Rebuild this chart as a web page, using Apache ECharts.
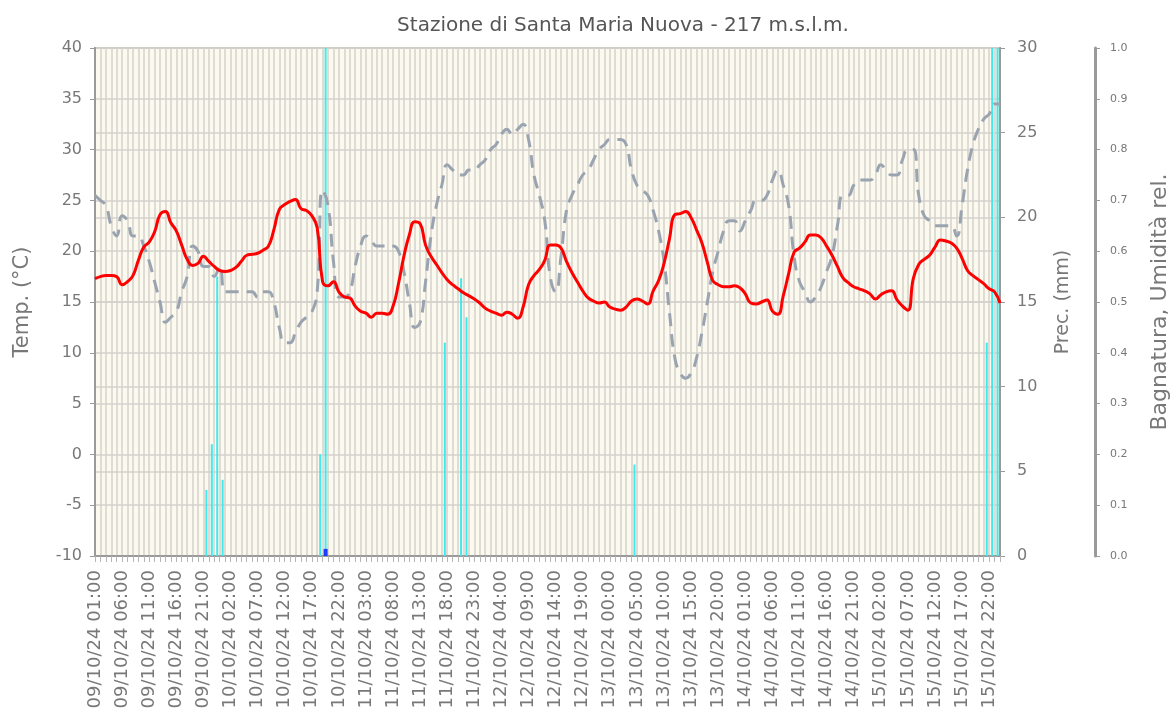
<!DOCTYPE html>
<html>
<head>
<meta charset="utf-8">
<title>Stazione di Santa Maria Nuova</title>
<script src="https://cdn.jsdelivr.net/npm/echarts@6/dist/echarts.min.js"></script>
<style>
  html, body { margin: 0; padding: 0; background: #fff; }
  #chart { width: 1171px; height: 718px; }
</style>
</head>
<body>
<div id="chart"></div>
<script>
// ore dal 09/10/24 01:00 al 16/10/24 00:00 (una categoria per ora)
var categories = [];
for (var i = 0; i < 168; i++) {
  var h = 1 + i;
  categories.push(pad(9 + Math.floor(h / 24)) + '/10/24 ' + pad(h % 24) + ':00');
}
function pad(n) { return (n < 10 ? '0' : '') + n; }

// temperatura (°C), 24 valori per riga
var temperature = [
  17.3,17.5,17.6,17.6,17.5,16.7,17.0,17.6,19.1,20.4,20.9,21.9,23.6,23.9,22.8,22.0,20.6,19.2,18.6,18.8,19.5,19.0,18.5,18.1,
  18.0,18.1,18.4,19.0,19.6,19.7,19.8,20.1,20.5,22.1,24.1,24.6,24.9,25.1,24.2,24.0,23.5,22.3,17.0,16.6,17.0,16.0,15.5,15.4,
  14.6,14.1,13.9,13.5,13.9,13.9,13.8,14.6,16.8,19.5,21.6,22.9,22.7,20.6,19.5,18.7,17.9,17.2,16.7,16.3,15.9,15.6,15.3,14.9,
  14.4,14.1,13.9,13.7,14.0,13.8,13.4,14.5,16.7,17.6,18.2,19.1,20.6,20.6,20.3,19.0,17.9,17.0,16.1,15.4,15.1,14.9,15.0,14.5,
  14.3,14.2,14.5,15.1,15.3,15.1,14.8,16.1,17.1,18.8,21.2,23.6,23.7,23.9,23.3,22.1,20.8,18.9,17.1,16.7,16.5,16.5,16.6,16.4,
  15.8,14.9,14.8,15.0,15.2,14.1,13.8,15.6,17.8,19.9,20.3,20.9,21.6,21.6,21.3,20.5,19.6,18.5,17.4,16.9,16.5,16.3,16.1,15.8,
  15.3,15.7,16.0,16.1,15.2,14.6,14.2,17.3,18.7,19.2,19.6,20.4,21.1,21.0,20.8,20.3,19.3,18.1,17.6,17.2,16.8,16.3,16.0,14.9
];

// umidità relativa (0-1)
var humidity = [
  0.71,0.70,0.69,0.65,0.63,0.67,0.66,0.63,0.63,0.61,0.58,0.54,0.50,0.46,0.47,0.48,0.52,0.55,0.61,0.60,0.57,0.57,0.55,0.57,
  0.52,0.52,0.52,0.52,0.52,0.52,0.51,0.52,0.52,0.50,0.45,0.42,0.42,0.44,0.46,0.47,0.48,0.52,0.72,0.69,0.58,0.51,0.51,0.52,
  0.57,0.61,0.63,0.62,0.61,0.61,0.61,0.61,0.60,0.56,0.50,0.45,0.46,0.54,0.63,0.69,0.73,0.77,0.76,0.75,0.75,0.76,0.76,0.77,
  0.78,0.80,0.81,0.83,0.84,0.83,0.84,0.85,0.82,0.75,0.71,0.66,0.55,0.52,0.59,0.68,0.71,0.73,0.75,0.76,0.78,0.80,0.81,0.82,
  0.82,0.82,0.81,0.76,0.73,0.72,0.71,0.68,0.64,0.58,0.48,0.39,0.36,0.35,0.36,0.39,0.44,0.50,0.56,0.60,0.64,0.66,0.66,0.64,
  0.66,0.68,0.70,0.70,0.71,0.74,0.76,0.73,0.69,0.59,0.54,0.52,0.50,0.51,0.53,0.56,0.59,0.65,0.71,0.71,0.73,0.74,0.74,0.74,
  0.75,0.77,0.76,0.75,0.75,0.78,0.80,0.80,0.71,0.67,0.66,0.65,0.65,0.65,0.65,0.63,0.69,0.76,0.81,0.84,0.86,0.87,0.89,0.89
];

// precipitazioni (mm)
var precipitation = [
  0,0,0,0,0,0,0,0,0,0,0,0,0,0,0,0,0,0,0,0,3.9,6.6,16.5,4.5,
  0,0,0,0,0,0,0,0,0,0,0,0,0,0,0,0,0,6.0,30,0,0,0,0,0,
  0,0,0,0,0,0,0,0,0,0,0,0,0,0,0,0,12.6,0,0,16.4,14.1,0,0,0,
  0,0,0,0,0,0,0,0,0,0,0,0,0,0,0,0,0,0,0,0,0,0,0,0,
  0,0,0,5.4,0,0,0,0,0,0,0,0,0,0,0,0,0,0,0,0,0,0,0,0,
  0,0,0,0,0,0,0,0,0,0,0,0,0,0,0,0,0,0,0,0,0,0,0,0,
  0,0,0,0,0,0,0,0,0,0,0,0,0,0,0,0,0,0,0,0,12.6,30,30,0
];

// bagnatura fogliare (0-1)
var wetness = [
  0,0,0,0,0,0,0,0,0,0,0,0,0,0,0,0,0,0,0,0,0,0,0,0,
  0,0,0,0,0,0,0,0,0,0,0,0,0,0,0,0,0,0,0.014,0,0,0,0,0,
  0,0,0,0,0,0,0,0,0,0,0,0,0,0,0,0,0,0,0,0,0,0,0,0,
  0,0,0,0,0,0,0,0,0,0,0,0,0,0,0,0,0,0,0,0,0,0,0,0,
  0,0,0,0,0,0,0,0,0,0,0,0,0,0,0,0,0,0,0,0,0,0,0,0,
  0,0,0,0,0,0,0,0,0,0,0,0,0,0,0,0,0,0,0,0,0,0,0,0,
  0,0,0,0,0,0,0,0,0,0,0,0,0,0,0,0,0,0,0,0,0,0,0,0
];

var font = '"DejaVu Sans", Verdana, sans-serif';
var gridLine = { color: '#d5d2cc', width: 1.5 };
var axisGray = '#9a9a9a';
var labelGray = '#787878';

var chart = echarts.init(document.getElementById('chart'));
var option = {
  animation: false,
  textStyle: { fontFamily: font },
  title: {
    text: 'Stazione di Santa Maria Nuova - 217 m.s.l.m.',
    left: 618,
    top: 11,
    textAlign: 'center',
    textStyle: { fontSize: 20, fontWeight: 'normal', color: '#555', fontFamily: font }
  },
  tooltip: { trigger: 'axis' },
  grid: [
    // area principale
    { left: 95, right: 171, top: 48, bottom: 162, show: true, outerBoundsMode: 'none',
      backgroundColor: '#fcf9ee', borderColor: axisGray, borderWidth: 2 },
    // barre, leggermente spostate dopo l'ora
    { left: 98, right: 168, top: 48, bottom: 162, outerBoundsMode: 'none' }
  ],
  xAxis: [
    {
      gridIndex: 0,
      type: 'category',
      data: categories,
      boundaryGap: false,
      axisLine: { onZero: false, lineStyle: { color: axisGray, width: 2 } },
      axisTick: { interval: 0, length: 6, lineStyle: { color: '#b5b5b5' } },
      axisLabel: { interval: 4, rotate: 90, fontSize: 18, color: labelGray, margin: 14 },
      splitLine: { show: true, interval: 0, lineStyle: gridLine }
    },
    { gridIndex: 1, type: 'category', data: categories, boundaryGap: false, show: false },
    { gridIndex: 1, type: 'category', data: categories, boundaryGap: false, show: false }
  ],
  yAxis: [
    {
      gridIndex: 0,
      type: 'value',
      min: -10, max: 40, interval: 5,
      name: 'Temp. (°C)',
      nameLocation: 'middle',
      nameGap: 62,
      nameTextStyle: { fontSize: 21, color: labelGray },
      axisLine: { show: true, lineStyle: { color: axisGray, width: 2 } },
      axisTick: { show: true, length: 5, lineStyle: { color: axisGray } },
      axisLabel: { fontSize: 16, color: labelGray, margin: 13 },
      splitLine: { show: true, lineStyle: gridLine }
    },
    {
      gridIndex: 0,
      type: 'value',
      position: 'right',
      min: 0, max: 30, interval: 5,
      name: 'Prec. (mm)',
      nameLocation: 'middle',
      nameGap: 54,
      nameRotate: 90,
      nameTextStyle: { fontSize: 19, color: labelGray },
      axisLine: { show: true, lineStyle: { color: axisGray, width: 2 } },
      axisTick: { show: true, length: 5, lineStyle: { color: axisGray } },
      axisLabel: { fontSize: 16, color: labelGray, margin: 17 },
      splitLine: { show: true, lineStyle: gridLine }
    },
    {
      gridIndex: 0,
      type: 'value',
      position: 'right',
      offset: 95,
      min: 0, max: 1, interval: 0.1,
      name: 'Bagnatura, Umidità rel.',
      nameLocation: 'middle',
      nameGap: 54,
      nameRotate: 90,
      nameTextStyle: { fontSize: 22, color: labelGray },
      axisLine: { show: true, lineStyle: { color: axisGray, width: 3 } },
      axisTick: { show: true, length: 5, lineStyle: { color: axisGray } },
      axisLabel: { fontSize: 11, color: labelGray, margin: 15,
        formatter: function (v) { return v.toFixed(1); } },
      splitLine: { show: false }
    },
    { gridIndex: 1, type: 'value', min: 0, max: 30, show: false, splitLine: { show: false } },
    { gridIndex: 1, type: 'value', min: 0, max: 1, show: false, splitLine: { show: false } }
  ],
  series: [
    {
      name: 'Precipitazioni',
      type: 'bar',
      xAxisIndex: 1,
      yAxisIndex: 3,
      barWidth: 2,
      itemStyle: { color: '#3fe9ee' },
      data: precipitation
    },
    {
      name: 'Bagnatura',
      type: 'bar',
      xAxisIndex: 2,
      yAxisIndex: 4,
      barWidth: 4,
      itemStyle: { color: '#1f3dff' },
      data: wetness
    },
    {
      name: 'Umidità rel.',
      type: 'line',
      xAxisIndex: 0,
      yAxisIndex: 2,
      smooth: true,
      showSymbol: false,
      lineStyle: { color: '#9aa4b0', width: 3, type: [13, 8] },
      itemStyle: { color: '#9aa4b0' },
      data: humidity
    },
    {
      name: 'Temperatura',
      type: 'line',
      xAxisIndex: 0,
      yAxisIndex: 0,
      smooth: true,
      showSymbol: false,
      lineStyle: { color: '#ff0000', width: 3 },
      itemStyle: { color: '#ff0000' },
      data: temperature
    }
  ]
};

chart.setOption(option);
</script>
</body>
</html>
